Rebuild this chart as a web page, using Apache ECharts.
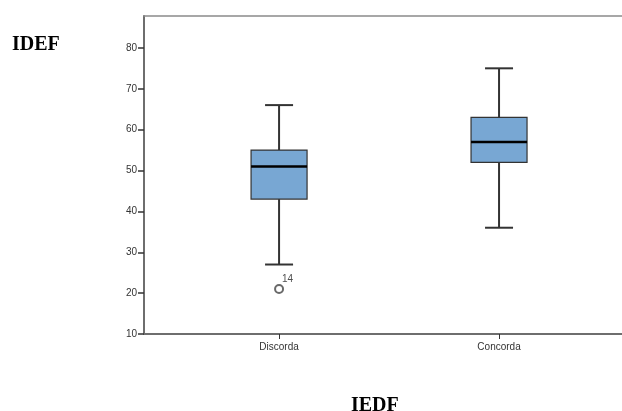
<!DOCTYPE html>
<html>
<head>
<meta charset="utf-8">
<script src="https://cdn.jsdelivr.net/npm/echarts@6/dist/echarts.min.js"></script>
<style>
    html, body { margin: 0; padding: 0; background: #fff; }
    #chart { width: 622px; height: 411px; }
</style>
</head>
<body>
<div id="chart"></div>
<script>
// groups on the x axis
const categories = ["Discorda", "Concorda"];
const positions = [1, 2];
// min, Q1, median, Q3, max
const boxStats = [
    [27, 43, 51, 55, 66],
    [36, 52, 57, 63, 75],
];
// outliers: [group position, value, case label]
const outliers = [
    [1, 21, "14"],
];
const yTicks = [10, 20, 30, 40, 50, 60, 70, 80];

const axisColor = "#6e6e6e";
const labelStyle = { color: "#333", fontFamily: "Arial, 'Liberation Sans', sans-serif", fontSize: 10 };
const titleStyle = { fontFamily: "'Liberation Serif', 'Times New Roman', serif", fontWeight: "bold", fontSize: 20, color: "#000" };
const boxHalf = 28; // half box width in px
const capHalf = 14; // half whisker cap width in px

const chart = echarts.init(document.getElementById("chart"), null, { renderer: "canvas" });

const option = {
    animation: false,
    title: [
        { text: "IDEF", left: 7, top: 30, textStyle: titleStyle },
        { text: "IEDF", left: 346, top: 391, textStyle: titleStyle },
    ],
    grid: {
        left: 144,
        right: 0,
        top: 16,
        bottom: 77,
    },
    xAxis: [
        {
            type: "value",
            min: 0.386,
            max: 2.559,
            splitLine: { show: false },
            axisLine: { show: true, lineStyle: { color: axisColor, width: 2 } },
            axisTick: {
                show: true,
                customValues: positions,
                length: 5,
                lineStyle: { color: "#333", width: 1 },
            },
            axisLabel: {
                customValues: positions,
                margin: 8,
                ...labelStyle,
                formatter: (v) => categories[positions.indexOf(v)] || "",
            },
        },
        {
            type: "value",
            position: "top",
            min: 0.386,
            max: 2.559,
            splitLine: { show: false },
            axisLine: { show: true, lineStyle: { color: "#8a8a8a", width: 1.5 } },
            axisTick: { show: false },
            axisLabel: { show: false },
        },
    ],
    yAxis: {
        type: "value",
        min: 10,
        max: 87.8,
        splitLine: { show: false },
        axisLine: { show: true, lineStyle: { color: axisColor, width: 2 } },
        axisTick: {
            show: true,
            customValues: yTicks,
            length: 6,
            lineStyle: { color: "#333", width: 1.5 },
        },
        axisLabel: {
            customValues: yTicks,
            margin: 7,
            ...labelStyle,
        },
    },
    series: [
        {
            // SPSS style box: half-width caps, thick median
            type: "custom",
            renderItem: (params, api) => {
                const x = api.value(0);
                const pMin = api.coord([x, api.value(1)]);
                const pQ1 = api.coord([x, api.value(2)]);
                const pMed = api.coord([x, api.value(3)]);
                const pQ3 = api.coord([x, api.value(4)]);
                const pMax = api.coord([x, api.value(5)]);
                const cx = pMed[0];
                const whisker = { stroke: "#333", lineWidth: 2 };
                return {
                    type: "group",
                    children: [
                        { type: "line", shape: { x1: cx, y1: pMax[1], x2: cx, y2: pQ3[1] }, style: whisker },
                        { type: "line", shape: { x1: cx, y1: pQ1[1], x2: cx, y2: pMin[1] }, style: whisker },
                        { type: "line", shape: { x1: cx - capHalf, y1: pMax[1], x2: cx + capHalf, y2: pMax[1] }, style: whisker },
                        { type: "line", shape: { x1: cx - capHalf, y1: pMin[1], x2: cx + capHalf, y2: pMin[1] }, style: whisker },
                        {
                            type: "rect",
                            shape: { x: cx - boxHalf, y: pQ3[1], width: boxHalf * 2, height: pQ1[1] - pQ3[1] },
                            style: { fill: "#78a7d3", stroke: "#333", lineWidth: 1.2 },
                        },
                        { type: "line", shape: { x1: cx - boxHalf, y1: pMed[1], x2: cx + boxHalf, y2: pMed[1] }, style: { stroke: "#000", lineWidth: 2.5 } },
                    ],
                };
            },
            data: positions.map((p, i) => [p].concat(boxStats[i])),
            encode: { x: 0, y: [1, 2, 3, 4, 5] },
        },
        {
            type: "scatter",
            symbol: "emptyCircle",
            symbolSize: 8,
            itemStyle: { color: "#444", borderColor: "#444", borderWidth: 1 },
            label: {
                show: true,
                position: [8, -10],
                formatter: (p) => p.value[2],
                ...labelStyle,
                color: "#222",
            },
            data: outliers,
            z: 6,
        },
    ],
};

chart.setOption(option);
</script>
</body>
</html>
